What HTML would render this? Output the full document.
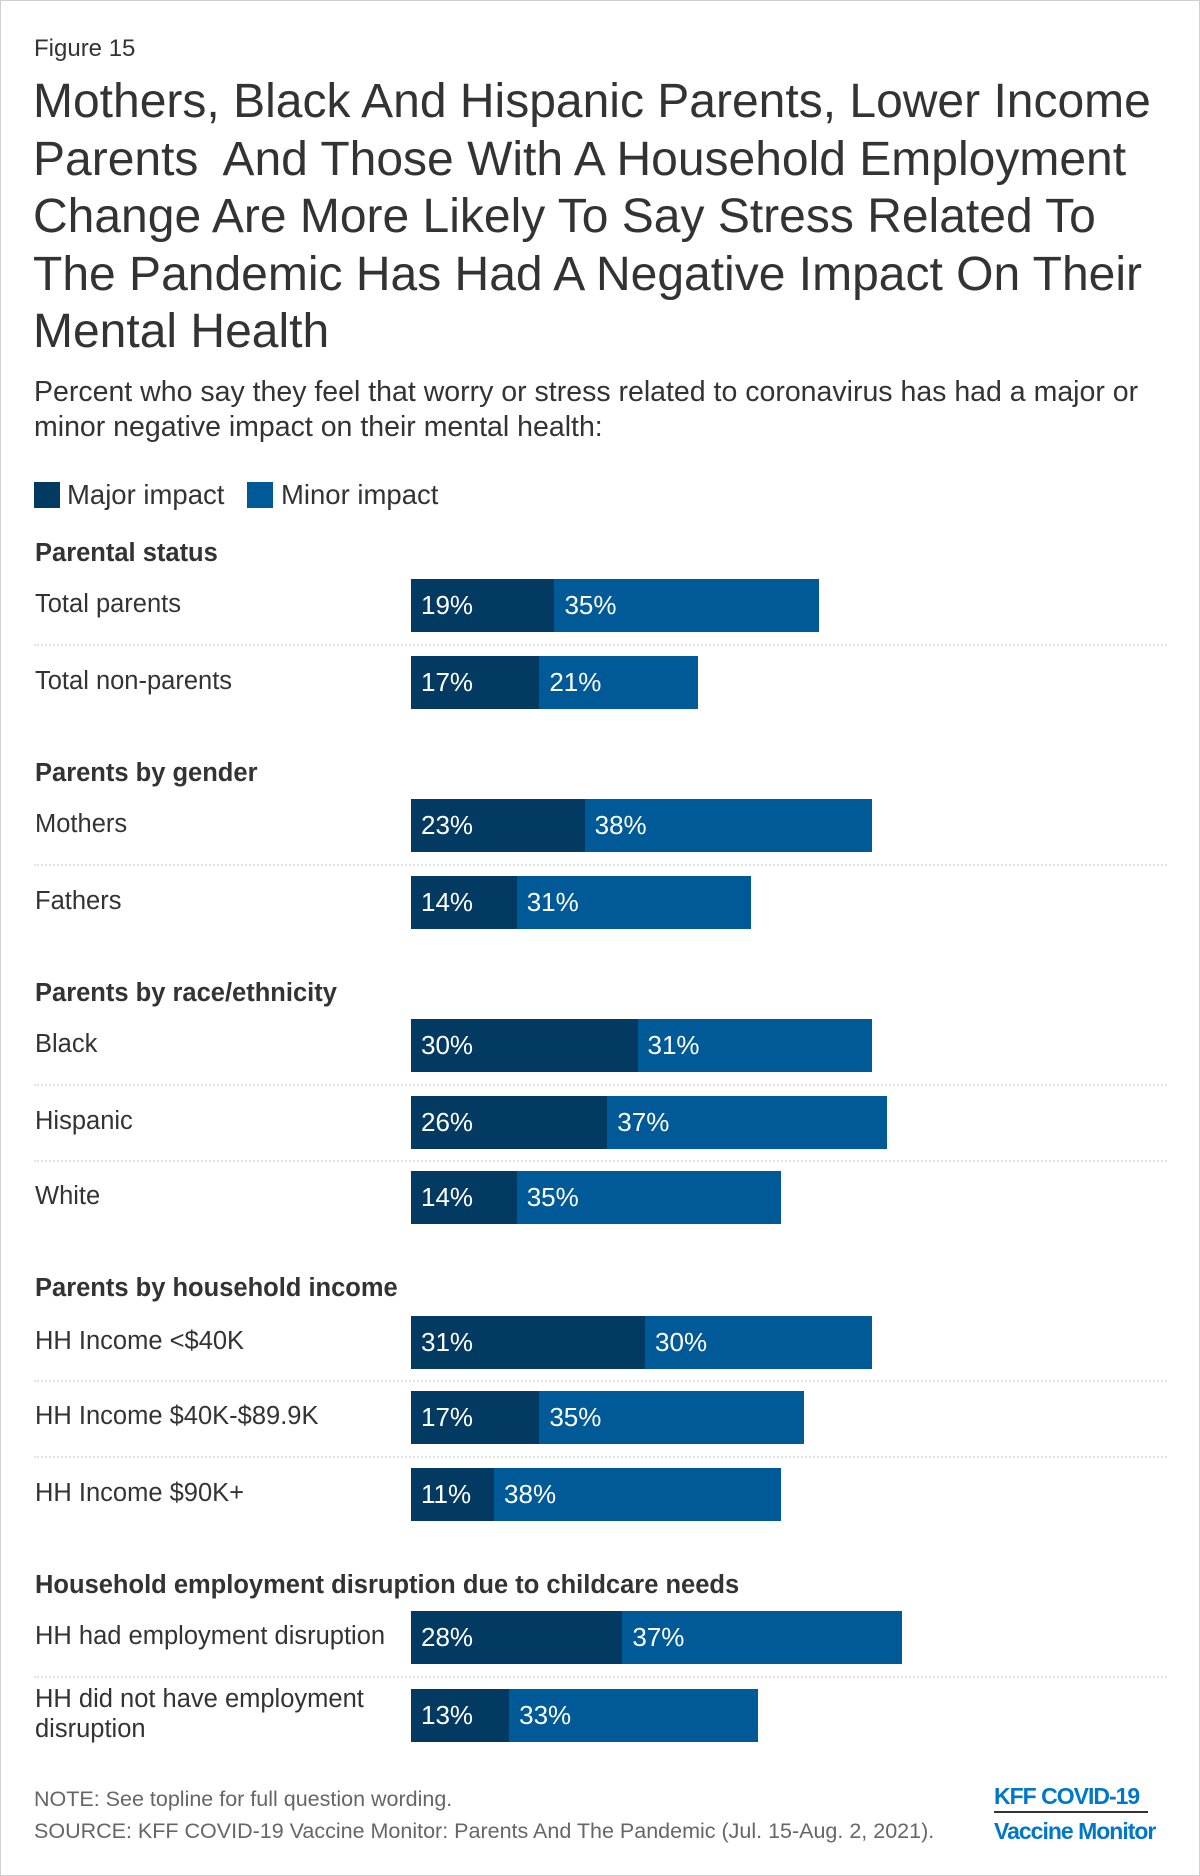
<!DOCTYPE html>
<html><head><meta charset="utf-8"><style>
body{margin:0;background:#fff;font-family:"Liberation Sans",Arial,sans-serif;}
#page{position:relative;width:1198px;height:1874px;border:1px solid #cfcfcf;overflow:hidden;background:#fff}
.t{position:absolute;white-space:nowrap;color:#333}
.bar{position:absolute}
.val{position:absolute;color:#fff;font-size:26px;line-height:26px}
.sep{position:absolute;left:33px;width:1133px;border-top:2px dotted #e2e2e2;height:0}
</style></head><body>
<div id="page">
<div class="t" style="left:33px;top:34px;font-size:24px">Figure 15</div>
<div class="t" style="left:32px;top:72px;font-size:48px;line-height:57.5px;color:#333">Mothers, Black And Hispanic Parents, Lower Income<br>Parents&nbsp; And Those With A Household Employment<br>Change Are More Likely To Say Stress Related To<br>The Pandemic Has Had A Negative Impact On Their<br>Mental Health</div>
<div class="t" style="left:33px;top:374px;font-size:28.5px;line-height:35px">Percent who say they feel that worry or stress related to coronavirus has had a major or<br>minor negative impact on their mental health:</div>
<div>
<div class="bar" style="left:33px;top:481px;width:26px;height:26px;background:#033a62"></div>
<div class="t" style="left:66px;top:478px;font-size:27.5px">Major impact</div>
<div class="bar" style="left:246px;top:481px;width:26px;height:26px;background:#005a98"></div>
<div class="t" style="left:280px;top:478px;font-size:27.5px">Minor impact</div>
</div>
<div id="plot"></div>
<div class="t" style="left:33px;top:1786px;font-size:21.5px;color:#666">NOTE: See topline for full question wording.</div>
<div class="t" style="left:33px;top:1818px;font-size:21.5px;color:#666">SOURCE: KFF COVID-19 Vaccine Monitor: Parents And The Pandemic (Jul. 15-Aug. 2, 2021).</div>
<div class="t" style="left:993px;top:1782px;font-size:23px;font-weight:bold;color:#0077c8;letter-spacing:-1px">KFF COVID-19</div>
<div style="position:absolute;left:993px;top:1810px;width:154px;height:2px;background:#333"></div>
<div class="t" style="left:993px;top:1817px;font-size:23px;font-weight:bold;color:#0077c8;letter-spacing:-1px">Vaccine Monitor</div>
</div>
<script>
const categories=["Total parents","Total non-parents","Mothers","Fathers","Black","Hispanic","White","HH Income <$40K","HH Income $40K-$89.9K","HH Income $90K+","HH had employment disruption","HH did not have employment disruption"];
const groups=[0,0,1,1,2,2,2,3,3,3,4,4];
const groupNames=["Parental status","Parents by gender","Parents by race/ethnicity","Parents by household income","Household employment disruption due to childcare needs"];
const majorVals=[19,17,23,14,30,26,14,31,17,11,28,13];
const minorVals=[35,21,38,31,31,37,35,30,35,38,37,33];
const X0=410, PX=7.55, BH=53;
function xs(v){return v*PX;}
const rowCenters=[604,681,824,901,1044,1121,1196,1341,1416,1493,1636,1714];
const headerTops=[538,758,978,1273,1570];
const plot=document.getElementById('plot');
const pg=document.getElementById('page');
groupNames.forEach((g,i)=>{
  const d=document.createElement('div');
  d.className='t';
  
  
  d.style.cssText=`left:34px;top:${headerTops[i]}px;font-size:25.5px;font-weight:bold;color:#333`;
  d.textContent=g;pg.appendChild(d);
});
categories.forEach((c,i)=>{
  const cy=rowCenters[i];
  const lab=document.createElement('div');
  lab.className='t';
  
  
  if(c.length>32){lab.innerHTML='HH did not have employment<br>disruption';lab.style.cssText=`left:34px;top:${cy-31}px;font-size:25.5px;line-height:30px`;}
  else{lab.textContent=c;lab.style.cssText=`left:34px;top:${cy-15}px;font-size:25.5px;line-height:28px`;}
  pg.appendChild(lab);
  const w1=xs(majorVals[i]), w2=xs(minorVals[i]);
  const b1=document.createElement('div');
  b1.className='bar';
  
  
  b1.style.cssText=`left:${X0}px;top:${cy-BH/2}px;width:${w1}px;height:${BH}px;background:#033a62`;
  plot.appendChild(b1);
  const b2=document.createElement('div');
  b2.className='bar';
  
  
  b2.style.cssText=`left:${X0+w1}px;top:${cy-BH/2}px;width:${w2}px;height:${BH}px;background:#005a98`;
  plot.appendChild(b2);
  const v1=document.createElement('div');
  v1.className='val';
  
  
  v1.style.cssText+=`left:${X0+10}px;top:${cy-13}px`;
  v1.textContent=majorVals[i]+'%';plot.appendChild(v1);
  const v2=document.createElement('div');
  v2.className='val';
  
  
  v2.style.cssText+=`left:${X0+w1+10}px;top:${cy-13}px`;
  v2.textContent=minorVals[i]+'%';plot.appendChild(v2);
  if(i<categories.length-1 && groups[i+1]===groups[i]){
    const s=document.createElement('div');
    s.className='sep';
    
    
    s.style.top=((cy+rowCenters[i+1])/2)+'px';
    plot.appendChild(s);
  }
});
</script>
</body></html>
